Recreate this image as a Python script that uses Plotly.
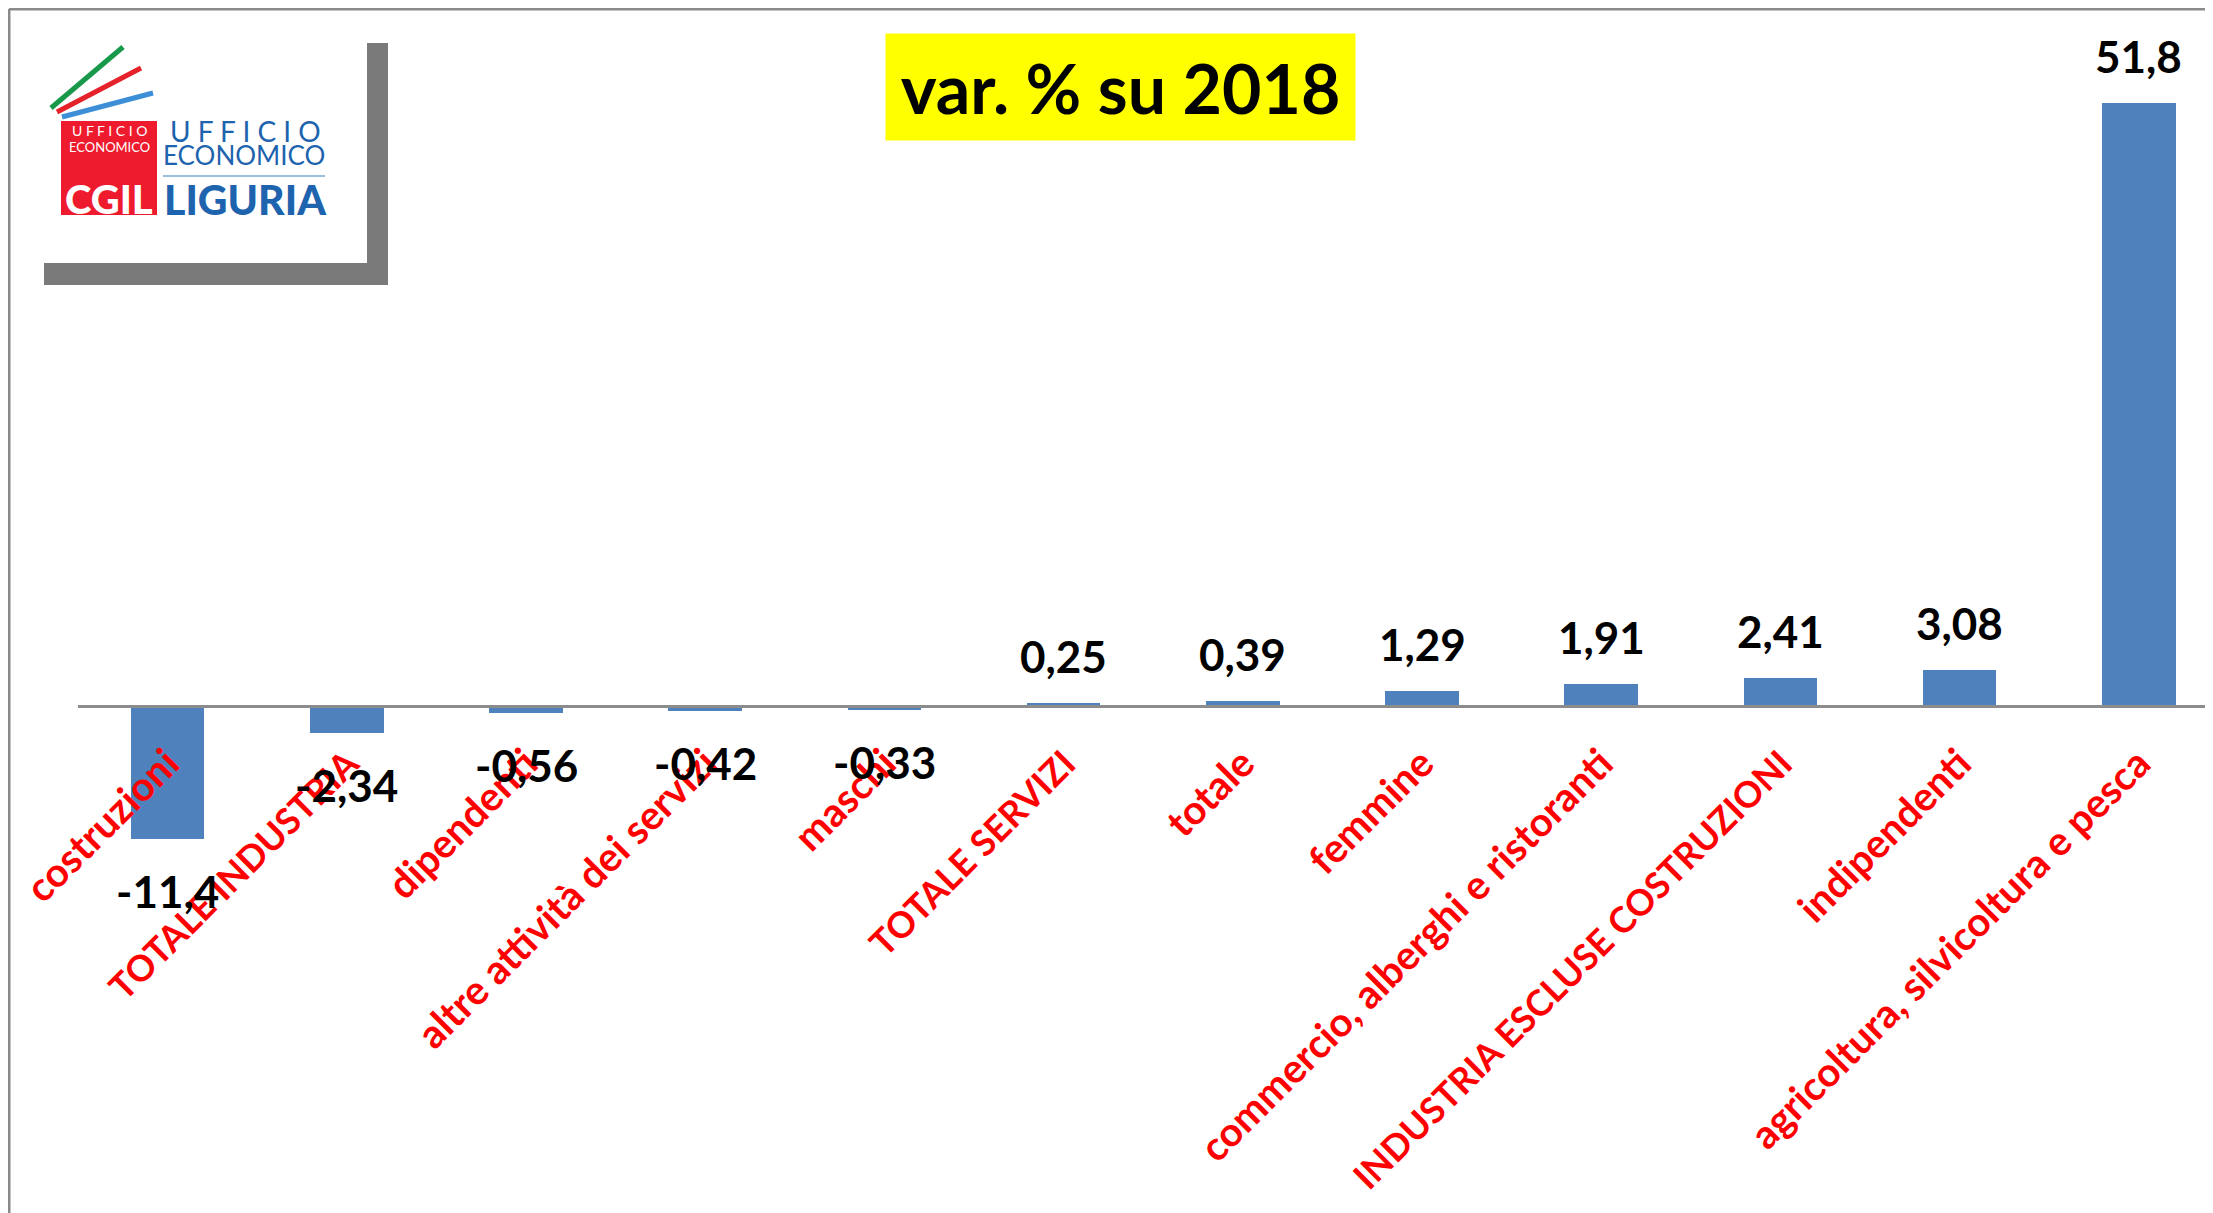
import plotly.graph_objects as go

categories = ["costruzioni", "TOTALE INDUSTRIA", "dipendenti", "altre attività dei servizi",
              "maschi", "TOTALE SERVIZI", "totale", "femmine",
              "commercio, alberghi e ristoranti", "INDUSTRIA ESCLUSE COSTRUZIONI",
              "indipendenti", "agricoltura, silvicoltura e pesca"]
values = [-11.4, -2.34, -0.56, -0.42, -0.33, 0.25, 0.39, 1.29, 1.91, 2.41, 3.08, 51.8]
title_text = "var. % su 2018"

# page has an 8px body margin: figure is sized so it ends at the window edge
OFF = 8
W, H = 2213 - OFF, 1213 - OFF
SCALE = 11.65  # px per unit
ZERO_Y = 706 - OFF
YMAX = ZERO_Y / SCALE
YMIN = -(H - ZERO_Y) / SCALE
FONT = "Lato"


def px(x):
    return (x - OFF) / W


def py(y):
    return 1 - (y - OFF) / H


# upper-case labels are set a bit smaller (the original font has narrow capitals)
tick_text = [f'<span style="font-size:36px">{c}</span>' if c.isupper() else c for c in categories]

fig = go.Figure()
fig.add_trace(go.Bar(x=categories, y=values, marker=dict(color="#4F81BD", line=dict(width=0)),
                     width=0.41, hoverinfo="x+y"))

annotations = []
for c, v in zip(categories, values):
    annotations.append(dict(x=c, y=v, xref="x", yref="y", text=str(v).replace(".", ","),
                            showarrow=False, yshift=47 if v >= 0 else -52,
                            font=dict(family=FONT, size=44, color="black", weight=700)))

# title box
annotations.append(dict(x=px(1120), y=py(87), xref="paper", yref="paper", text=title_text,
                        showarrow=False, xanchor="center", yanchor="middle",
                        width=469, height=106, bgcolor="#FFFF00", borderpad=0,
                        font=dict(family=FONT, size=68, color="black", weight=700)))

# logo texts
logo_texts = [
    ("U F F I C I O", 109, 131, 14, "white", 400),
    ("ECONOMICO", 109, 147, 13, "white", 400),
    ("CGIL", 109, 199, 40, "white", 900),
    ("U F F I C I O", 245, 131, 28, "#1d63ae", 400),
    ("ECONOMICO", 244, 155, 26, "#1d63ae", 400),
    ("LIGURIA", 245, 199, 41, "#1d63ae", 900),
]
for t, x, y, s, col, wt in logo_texts:
    annotations.append(dict(x=px(x), y=py(y), xref="paper", yref="paper", text=t,
                            showarrow=False, xanchor="center", yanchor="middle",
                            font=dict(family=FONT, size=s, color=col, weight=wt)))

shapes = [
    # outer frame lines
    dict(type="line", xref="paper", yref="paper", x0=px(9), x1=1, y0=py(9), y1=py(9),
         line=dict(color="#8a8a8a", width=3)),
    dict(type="line", xref="paper", yref="paper", x0=px(9), x1=px(9), y0=py(9), y1=0,
         line=dict(color="#8a8a8a", width=3)),
    # logo shadow frame
    dict(type="rect", xref="paper", yref="paper", x0=px(367), x1=px(388), y0=py(43), y1=py(285),
         fillcolor="#7a7a7a", line=dict(width=0)),
    dict(type="rect", xref="paper", yref="paper", x0=px(44), x1=px(388), y0=py(263), y1=py(285),
         fillcolor="#7a7a7a", line=dict(width=0)),
    # colored strokes
    dict(type="line", xref="paper", yref="paper", x0=px(51), y0=py(108), x1=px(123), y1=py(47),
         line=dict(color="#17984a", width=5)),
    dict(type="line", xref="paper", yref="paper", x0=px(57), y0=py(112), x1=px(141), y1=py(68),
         line=dict(color="#e52129", width=5)),
    dict(type="line", xref="paper", yref="paper", x0=px(62), y0=py(117), x1=px(153), y1=py(93),
         line=dict(color="#3c8fd6", width=5)),
    # red box
    dict(type="rect", xref="paper", yref="paper", x0=px(61), x1=px(157), y0=py(121), y1=py(215),
         fillcolor="#ee1b2e", line=dict(width=0)),
    # thin line under ECONOMICO
    dict(type="line", xref="paper", yref="paper", x0=px(163), x1=px(325), y0=py(176), y1=py(176),
         line=dict(color="#7aaad6", width=1.5)),
]

fig.update_layout(
    width=W, height=H, margin=dict(l=0, r=0, t=0, b=0, autoexpand=False),
    paper_bgcolor="white", plot_bgcolor="rgba(0,0,0,0)",
    showlegend=False, bargap=0,
    xaxis=dict(type="category", domain=[px(78), 1], range=[-0.5, 11.414],
               anchor="free", position=-YMIN / (YMAX - YMIN), automargin=False,
               showline=True, linecolor="#8c8c8c", linewidth=3, ticks="",
               tickvals=categories, ticktext=tick_text, ticklabelstandoff=16,
               tickangle=-45, showgrid=False, zeroline=False,
               tickfont=dict(family=FONT, size=40, color="#FF0000", weight=700)),
    yaxis=dict(range=[YMIN, YMAX], visible=False, showgrid=False, zeroline=False,
               automargin=False),
    annotations=annotations, shapes=shapes,
)

fig.write_html("out.html")
